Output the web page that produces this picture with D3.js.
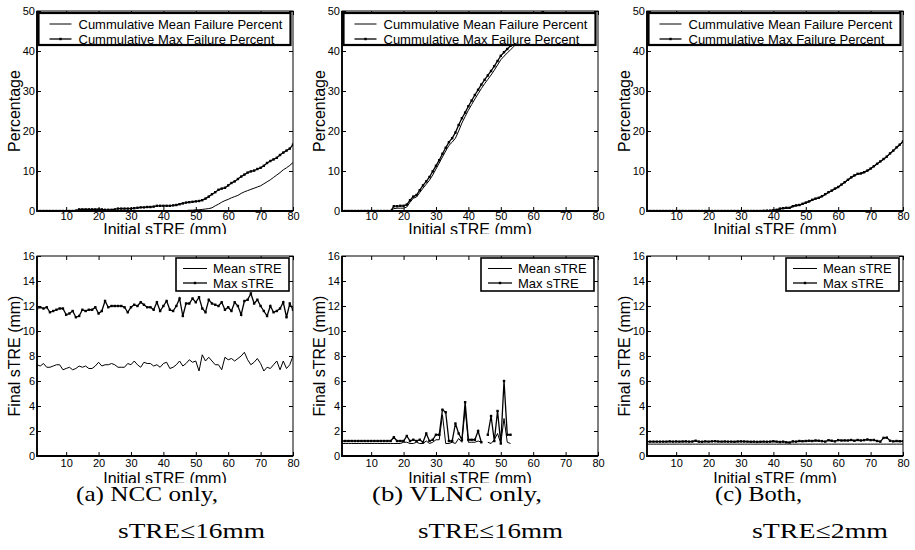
<!DOCTYPE html>
<html><head><meta charset="utf-8">
<script src="https://cdn.jsdelivr.net/npm/d3@7/dist/d3.min.js"></script>
<style>
html,body{margin:0;padding:0;background:#fff;}
svg{display:block;}
</style></head>
<body>
<svg id="chart" width="915" height="550"></svg>
<script>
// ---------- DATA ----------
const xTicks = [10, 20, 30, 40, 50, 60, 70, 80];
const pctTicks = [0, 10, 20, 30, 40, 50];
const streTicks = [0, 2, 4, 6, 8, 10, 12, 14, 16];
const xDomain = [1, 80];
const pctDomain = [0, 50];
const streDomain = [0, 16];

const failLegend = ["Cummulative Mean Failure Percent", "Cummulative Max Failure Percent"];
const streLegend = ["Mean sTRE", "Max sTRE"];
const xTitle = "Initial sTRE (mm)";
const pctTitle = "Percentage";
const streTitle = "Final sTRE (mm)";
const captionLabels = ["(a)", "(b)", "(c)"];
const captionLine1 = ["NCC only,", "VLNC only,", "Both,"];
const captionLine2 = ["sTRE\u226416mm", "sTRE\u226416mm", "sTRE\u22642mm"];

// (a) NCC only — cumulative failure percent, x = 1..80
const nccMeanFail = [0,0,0,0,0,0,0,0,0,0, 0,0,0,0,0,0,0,0,0,0,
  0,0,0,0,0,0,0,0,0,0, 0,0,0,0,0,0,0,0,0,0,
  0,0,0,0,0,0,0.1,0.2,0.2,0.3, 0.3,0.4,0.5,0.6,0.8,1.3,1.7,2.2,2.6,2.9,
  3.3,3.6,3.9,4.4,4.8,5.1,5.4,5.7,6.0,6.3, 6.8,7.3,7.8,8.4,9.0,9.6,10.3,10.8,11.4,12.1];
const nccMaxFail = [0,0,0,0,0,0,0,0,0,0, 0,0,0.1,0.4,0.4,0.4,0.4,0.4,0.4,0.4,
  0.4,0.3,0.3,0.3,0.4,0.6,0.6,0.6,0.6,0.6, 0.7,0.8,0.9,0.9,1.0,1.0,1.1,1.3,1.3,1.3,
  1.3,1.3,1.4,1.5,1.7,1.9,2.1,2.2,2.3,2.4, 2.5,2.7,3.1,3.6,4.2,4.7,5.3,5.6,5.8,6.4,
  7.0,7.4,8.0,8.6,9.1,9.6,9.9,10.1,10.5,10.8, 11.3,12.0,12.5,12.9,13.3,14.0,14.6,15.1,15.6,16.6];

// (b) VLNC only — cumulative failure percent, x = 1..64 (rest above 50%)
const vlncMeanFail = [0,0,0,0,0,0,0,0,0,0, 0,0,0,0,0,0,0.6,0.7,0.7,0.7,
  1.0,2.2,3.2,3.5,4.6,5.7,6.7,7.7,9.0,10.5, 12.0,13.5,15.0,16.4,17.2,18.2,20.0,22.0,23.6,25.2,
  26.6,28.0,29.3,30.6,31.8,32.9,34.0,35.2,36.5,37.8, 38.7,39.5,40.3,41.1,42.0,42.9,43.8,44.7,45.6,46.5,
  47.4,48.2,49.0,49.8];
const vlncMaxFail = [0,0,0,0,0,0,0,0,0,0, 0,0,0,0,0,0,1.2,1.2,1.3,1.3,
  1.6,2.7,3.6,4.0,5.2,6.4,7.4,8.5,9.9,11.3, 12.7,14.3,15.8,17.2,18.2,19.6,21.5,23.2,24.6,26.2,
  27.6,29.0,30.3,31.6,32.8,33.9,35.0,36.2,37.5,38.8, 39.7,40.5,41.3,42.1,43.0,43.9,44.8,45.7,46.6,47.5,
  48.4,49.2,50.0,50.8];

// (c) Both — cumulative failure percent, x = 1..80
const bothMeanFail = [0,0,0,0,0,0,0,0,0,0, 0,0,0,0,0,0,0,0,0,0,
  0,0,0,0,0,0,0,0,0,0, 0,0,0,0,0,0,0,0,0.05,0.1,
  0.2,0.5,0.6,0.7,0.7,1.1,1.3,1.4,1.7,2.0, 2.3,2.7,3.0,3.2,3.6,4.1,4.6,5.0,5.5,5.9,
  6.5,7.1,7.7,8.3,8.8,9.2,9.3,9.6,10.0,10.5, 11.1,11.7,12.3,12.9,13.5,14.3,15.0,15.8,16.5,17.3];
const bothMaxFail = [0,0,0,0,0,0,0,0,0,0, 0,0,0,0,0,0,0,0,0,0,
  0,0,0,0,0,0,0,0,0,0, 0,0,0,0,0,0,0.05,0.1,0.1,0.2,
  0.3,0.6,0.7,0.8,0.8,1.2,1.4,1.5,1.8,2.1, 2.4,2.8,3.1,3.3,3.7,4.2,4.7,5.1,5.6,6.0,
  6.6,7.2,7.8,8.4,8.9,9.3,9.4,9.7,10.1,10.6, 11.2,11.8,12.4,13.0,13.6,14.4,15.1,15.9,16.6,17.4];

// (a) NCC only — final sTRE, x = 1..80
const nccMeanStre = [7.3,7.2,7.4,7.1,7.1,7.2,7.3,7.3,6.9,7.0,
  7.1,6.9,7.0,7.2,7.1,7.2,7.0,7.0,7.2,7.5, 7.2,7.3,7.3,7.4,7.3,7.1,7.1,7.1,7.4,7.3,
  7.6,7.3,7.1,7.5,7.4,7.4,7.2,7.3,7.1,7.4, 7.5,7.0,7.1,7.3,7.6,7.2,7.4,7.7,7.5,7.6,
  6.8,8.1,7.6,7.9,7.6,7.3,7.3,6.9,7.9,7.7, 7.8,7.6,7.8,8.0,8.3,7.7,7.3,7.5,7.8,7.4,
  6.8,7.1,7.0,7.3,7.6,6.9,7.6,7.0,7.3,8.0];
const nccMaxStre = [11.8,11.9,11.8,11.9,11.5,11.6,11.7,11.8,11.8,11.3,
  11.4,11.6,11.1,11.2,11.7,11.6,11.7,11.7,11.9,11.4, 11.6,12.4,11.9,12.0,12.0,12.0,12.0,11.9,11.5,11.9,
  12.1,12.0,12.3,12.1,11.9,11.9,11.7,12.3,11.6,12.0, 12.4,11.7,11.6,12.0,12.6,11.2,12.2,12.2,12.6,12.3,
  12.7,11.8,11.5,12.5,12.2,12.1,12.0,12.3,11.7,11.9, 11.6,12.3,12.0,11.3,12.4,12.5,13.0,12.2,12.5,12.0,
  11.6,11.2,12.0,11.5,11.6,11.8,12.3,11.1,12.2,11.7];

// (b) VLNC only — final sTRE, x = 1..53 (null = no data)
const vlncMeanStre = [1.0,1.0,1.0,1.0,1.0,1.0,1.0,1.0,1.0,1.0,
  1.0,1.0,1.0,1.0,1.0,1.0,1.0,1.0,1.0,1.1, 1.1,1.0,1.0,1.1,1.0,1.0,1.2,1.0,1.1,1.3,
  1.3,3.3,1.0,1.0,1.1,1.0,1.4,1.1,3.8,1.1, 1.1,1.1,1.2,1.1,null,1.1,1.0,1.3,1.8,1.0,
  3.0,1.1,1.0];
const vlncMaxStre = [1.2,1.2,1.2,1.2,1.2,1.2,1.2,1.2,1.2,1.2,
  1.2,1.2,1.2,1.2,1.2,1.2,1.5,1.2,1.2,1.2, 1.6,1.2,1.3,1.2,1.3,1.1,1.8,1.2,1.3,1.7,
  1.7,3.7,3.5,1.2,1.2,2.6,1.8,1.3,4.3,1.3, 1.3,1.3,2.0,1.1,null,1.7,3.2,1.2,3.6,1.0,
  6.0,1.7,1.7];

// (c) Both — final sTRE, x = 1..80
const bothMeanStre = [0.95,0.95,0.95,0.95,0.95,0.95,0.95,0.95,0.95,0.95,
  0.95,0.95,0.95,0.95,0.95,0.95,0.95,0.95,0.95,0.95, 0.95,0.95,0.95,0.95,0.95,0.95,0.95,0.95,0.95,0.95,
  0.95,0.95,0.95,0.95,0.95,0.95,0.95,0.95,0.95,0.95, 0.95,0.95,0.95,0.95,0.95,0.95,0.95,0.95,0.95,0.95,
  0.95,0.95,0.95,0.95,0.95,0.95,0.95,0.95,0.95,0.95, 0.95,0.95,0.95,0.95,0.95,0.95,0.95,0.95,0.95,0.95,
  0.95,0.95,0.95,0.95,0.95,0.95,0.95,0.95,0.95,0.95];
const bothMaxStre = [1.15,1.15,1.15,1.15,1.15,1.15,1.15,1.17,1.15,1.16,
  1.15,1.16,1.17,1.15,1.16,1.22,1.15,1.14,1.17,1.15, 1.17,1.18,1.16,1.15,1.16,1.15,1.15,1.14,1.16,1.17,
  1.16,1.15,1.14,1.15,1.13,1.14,1.15,1.14,1.15,1.18, 1.15,1.12,1.15,1.10,1.08,1.17,1.15,1.20,1.18,1.20,
  1.22,1.20,1.24,1.22,1.19,1.15,1.26,1.22,1.17,1.27, 1.24,1.25,1.24,1.28,1.22,1.28,1.24,1.27,1.32,1.27,
  1.28,1.20,1.15,1.45,1.47,1.22,1.17,1.20,1.18,1.18];

// ---------- LAYOUT ----------
const svg = d3.select("#chart");
const W = 256, H = 200;
const colX = [37, 342, 647];
const rowY = [11, 256];
const capLeft = [76, 372, 715];
const capIndent = [42, 46, 37];
const capW1 = [142, 170, 87];
const capW2 = [147, 145, 136];

const FONT = "'Liberation Sans', Arial, Helvetica, sans-serif";
const SERIF = "'Liberation Serif', 'Times New Roman', serif";

function panel(id, px, py, yDomain, yTicks, yTitle, meanData, maxData, legendTexts, kind) {
  const g = svg.append("g").attr("transform", `translate(${px},${py})`);
  const x = d3.scaleLinear().domain(xDomain).range([0, W]);
  const y = d3.scaleLinear().domain(yDomain).range([H, 0]);
  const top = kind === "fail";

  const clipId = "clip" + id;
  svg.append("clipPath").attr("id", clipId).append("rect")
    .attr("x", 0).attr("y", 0).attr("width", W).attr("height", H);

  const ax = (sel) => sel.call(s => s.select(".domain").remove())
    .call(s => s.selectAll("line").attr("stroke", "#000").attr("stroke-width", 1))
    .call(s => s.selectAll("text").attr("font-family", FONT).attr("font-size", 11).attr("fill", "#000"));

  g.append("g").attr("transform", `translate(0,${H})`)
    .call(d3.axisBottom(x).tickValues(xTicks).tickSize(-4).tickPadding(top ? 1 : 3)).call(ax);
  g.append("g")
    .call(d3.axisTop(x).tickValues(xTicks).tickSize(-4).tickFormat("")).call(ax);
  g.append("g")
    .call(d3.axisLeft(y).tickValues(yTicks).tickSize(-4).tickPadding(2)).call(ax);
  g.append("g").attr("transform", `translate(${W},0)`)
    .call(d3.axisRight(y).tickValues(yTicks).tickSize(-4).tickFormat("")).call(ax);

  // frame
  g.append("rect").attr("x", 0).attr("y", 0).attr("width", W).attr("height", H)
    .attr("fill", "none").attr("stroke", "#000").attr("stroke-width", 1);
  g.append("path").attr("d", d3.line()([[0, 0], [0, H], [W, H]]))
    .attr("fill", "none").attr("stroke", "#000").attr("stroke-width", 1.8);

  // data
  const pts = (arr) => arr.map((v, i) => [i + 1, v]);
  const line = d3.line().defined(d => d[1] !== null).x(d => x(d[0])).y(d => y(d[1]));
  const dg = g.append("g").attr("clip-path", `url(#${clipId})`);
  dg.append("path").attr("d", line(pts(meanData)))
    .attr("fill", "none").attr("stroke", "#000").attr("stroke-width", 1);
  dg.append("path").attr("d", line(pts(maxData)))
    .attr("fill", "none").attr("stroke", "#000").attr("stroke-width", 1.3);
  dg.selectAll("rect.mk").data(pts(maxData).filter(d => d[1] !== null)).enter()
    .append("rect").attr("class", "mk")
    .attr("x", d => x(d[0]) - 1.2).attr("y", d => y(d[1]) - 1.2)
    .attr("width", 2.4).attr("height", 2.4).attr("fill", "#000");

  // legend
  const lg = top
    ? { x: 1.5, y: 2, w: 252, h: 32, lx0: 11, lx1: 33, tx: 40, r0: 11, r1: 26, fs: 13, sw: 2.2 }
    : { x: 139, y: 2, w: 113, h: 33, lx0: 7, lx1: 31, tx: 37, r0: 10.5, r1: 25, fs: 13, sw: 1.6 };
  const L = g.append("g").attr("transform", `translate(${lg.x},${lg.y})`);
  L.append("rect").attr("width", lg.w).attr("height", lg.h)
    .attr("fill", "#fff").attr("stroke", "#000").attr("stroke-width", lg.sw);
  [lg.r0, lg.r1].forEach((ry, k) => {
    L.append("line").attr("x1", lg.lx0).attr("x2", lg.lx1).attr("y1", ry).attr("y2", ry)
      .attr("stroke", "#000").attr("stroke-width", k === 0 ? 1 : 1.3);
    if (k === 1) {
      L.append("rect").attr("x", (lg.lx0 + lg.lx1) / 2 - 1.2).attr("y", ry - 1.2)
        .attr("width", 2.4).attr("height", 2.4).attr("fill", "#000");
    }
    L.append("text").attr("x", lg.tx).attr("y", ry).attr("dy", "0.36em")
      .attr("font-family", FONT).attr("font-size", lg.fs).attr("fill", "#000")
      .text(legendTexts[k]);
  });

  // axis titles (x title is cut off at its baseline, as in the reference)
  const base = top ? H + 24 : H + 28;
  const cut = top ? H + 23 : H + 27;
  const tclip = "tclip" + id;
  svg.append("clipPath").attr("id", tclip).append("rect")
    .attr("x", -50).attr("y", -100).attr("width", W + 100).attr("height", cut + 100);
  g.append("text").attr("x", W / 2).attr("y", base)
    .attr("text-anchor", "middle").attr("font-family", FONT).attr("font-size", 16)
    .attr("clip-path", `url(#${tclip})`).text(xTitle);
  g.append("text").attr("transform", `translate(-17,${H / 2}) rotate(-90)`)
    .attr("text-anchor", "middle").attr("font-family", FONT).attr("font-size", 16)
    .text(yTitle);
}

for (let c = 0; c < 3; c++) {
  const meanF = [nccMeanFail, vlncMeanFail, bothMeanFail][c];
  const maxF = [nccMaxFail, vlncMaxFail, bothMaxFail][c];
  const meanS = [nccMeanStre, vlncMeanStre, bothMeanStre][c];
  const maxS = [nccMaxStre, vlncMaxStre, bothMaxStre][c];
  panel("t" + c, colX[c], rowY[0], pctDomain, pctTicks, pctTitle, meanF, maxF, failLegend, "fail");
  panel("b" + c, colX[c], rowY[1], streDomain, streTicks, streTitle, meanS, maxS, streLegend, "stre");

  const cap = svg.append("g").attr("font-family", SERIF).attr("font-size", 22).attr("fill", "#000");
  cap.append("text").attr("x", capLeft[c]).attr("y", 501)
    .attr("textLength", capW1[c]).attr("lengthAdjust", "spacingAndGlyphs")
    .text(captionLabels[c] + " " + captionLine1[c]);
  cap.append("text").attr("x", capLeft[c] + capIndent[c]).attr("y", 538)
    .attr("textLength", capW2[c]).attr("lengthAdjust", "spacingAndGlyphs")
    .text(captionLine2[c]);
}
</script>
</body></html>
